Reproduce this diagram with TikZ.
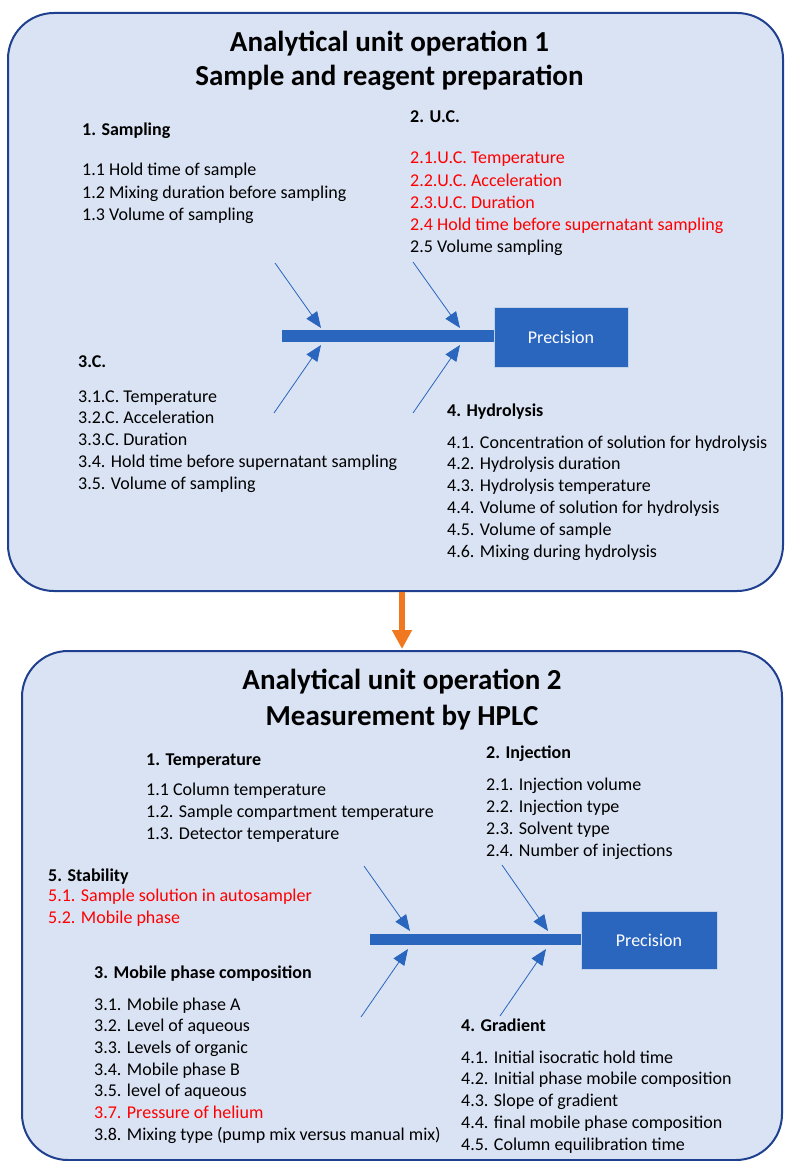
\documentclass[tikz,border=0pt]{standalone}
\usepackage{fontspec}
\setmainfont{Carlito}
\usetikzlibrary{arrows.meta}
\definecolor{panelfill}{HTML}{DAE3F3}
\definecolor{paneldraw}{HTML}{1F3F8F}
\definecolor{fishblue}{HTML}{2A65BE}
\definecolor{flowor}{HTML}{F07820}
\definecolor{redtxt}{HTML}{FF0000}
\newcommand{\bone}[2]{\draw[bone] (#1)--(#2);}
\newcommand{\rd}[1]{\textcolor{redtxt}{#1}}
\tikzset{
  panel/.style={draw=paneldraw,line width=2pt,fill=panelfill,rounded corners=46pt,
    inner sep=0pt},
  ttl/.style={font=\fontsize{29}{34}\selectfont\bfseries,anchor=base},
  head/.style={font=\fontsize{18}{22}\selectfont\bfseries,anchor=base west,inner sep=0pt},
  item/.style={font=\fontsize{18}{22}\selectfont,anchor=base west,inner sep=0pt},
  bone/.style={draw=fishblue,line width=.8pt,-{Triangle[length=16pt,width=13pt]}},
  spine/.style={fill=fishblue},
  effect/.style={fill=fishblue,draw=white!70!fishblue,line width=.6pt,
    text=white,font=\fontsize{18}{22}\selectfont,inner sep=0pt},
  flow/.style={draw=flowor,line width=6pt,-{Triangle[length=19pt,width=19pt]},
    shorten >=1pt}
}
\begin{document}
\begin{tikzpicture}[x=1pt,y=-1pt]
  \useasboundingbox (0,0) rectangle (784,1161);

  % the two unit operations
  \node[panel,minimum width=775pt,minimum height=578pt] (op1) at (395.5,302) {};
  \node[panel,minimum width=760pt,minimum height=509pt] (op2) at (402,905.5) {};
  \draw[flow] (op1.south -| op2.north) -- (op2.north);

  % ---- operation 1 ----
  \node[ttl] (t1a) at (389.5,52) {Analytical unit operation 1};
  \node[ttl] (t1b) at (389.5,86) {Sample and reagent preparation};

  \fill[spine] (282,330) rectangle (495,342);
  \node[effect,minimum width=134pt,minimum height=60pt] (eff1) at (561,337) {Precision};

  \coordinate (a1) at (275,263);  \coordinate (b1) at (321,328);
  \coordinate (a2) at (413,262);  \coordinate (b2) at (460,328);
  \coordinate (a3) at (274,413);  \coordinate (b3) at (321,345);
  \coordinate (a4) at (413,413);  \coordinate (b4) at (460,345);
  \foreach \i in {1,...,4}{\bone{a\i}{b\i}}

  \node[head] (h11) at (82,136) {1. Sampling};
  \foreach \txt [count=\k] in {1.1 Hold time of sample,
      1.2 Mixing duration before sampling,1.3 Volume of sampling}
    \node[item] (i11\k) at (82,176+22*\k-22) {\txt};

  \node[head] (h12) at (410,123) {2. U.C.};
  \foreach \txt [count=\k] in {\rd{2.1.U.C. Temperature},\rd{2.2.U.C. Acceleration},
      \rd{2.3.U.C. Duration},\rd{2.4 Hold time before supernatant sampling},
      2.5 Volume sampling}
    \node[item] (i12\k) at (410,164+22*\k-22) {\txt};

  \node[head] (h13) at (78,367) {3.C.};
  \foreach \txt [count=\k] in {3.1.C. Temperature,3.2.C. Acceleration,
      3.3.C. Duration,3.4. Hold time before supernatant sampling,
      3.5. Volume of sampling}
    \node[item] (i13\k) at (78,402+21.75*\k-21.75) {\txt};

  \node[head] (h14) at (447,416) {4. Hydrolysis};
  \foreach \txt [count=\k] in {4.1. Concentration of solution for hydrolysis,
      4.2. Hydrolysis duration,4.3. Hydrolysis temperature,
      4.4. Volume of solution for hydrolysis,4.5. Volume of sample,
      4.6. Mixing during hydrolysis}
    \node[item] (i14\k) at (447,448+21.8*\k-21.8) {\txt};

  % ---- operation 2 ----
  \node[ttl] (t2a) at (402,689) {Analytical unit operation 2};
  \node[ttl] (t2b) at (402,725) {Measurement by HPLC};

  \fill[spine] (370,934) rectangle (582,945);
  \node[effect,minimum width=136pt,minimum height=58pt] (eff2) at (649,940) {Precision};

  \coordinate (c1) at (364,866);  \coordinate (d1) at (410,931);
  \coordinate (c2) at (502,865);  \coordinate (d2) at (548,931);
  \coordinate (c3) at (361,1017); \coordinate (d3) at (408,949);
  \coordinate (c4) at (500,1016); \coordinate (d4) at (546,949);
  \foreach \i in {1,...,4}{\bone{c\i}{d\i}}

  \node[head] (h21) at (146,765) {1. Temperature};
  \foreach \txt [count=\k] in {1.1 Column temperature,
      1.2. Sample compartment temperature,1.3. Detector temperature}
    \node[item] (i21\k) at (146,795+22*\k-22) {\txt};

  \node[head] (h22) at (486,758) {2. Injection};
  \foreach \txt [count=\k] in {2.1. Injection volume,2.2. Injection type,
      2.3. Solvent type,2.4. Number of injections}
    \node[item] (i22\k) at (486,790+22*\k-22) {\txt};

  \node[head] (h25) at (48,881) {5. Stability};
  \foreach \txt [count=\k] in {\rd{5.1. Sample solution in autosampler},
      \rd{5.2. Mobile phase}}
    \node[item] (i25\k) at (48,901+22*\k-22) {\txt};

  \node[head] (h23) at (94,978) {3. Mobile phase composition};
  \foreach \txt [count=\k] in {3.1. Mobile phase A,3.2. Level of aqueous,
      3.3. Levels of organic,3.4. Mobile phase B,3.5. level of aqueous,
      \rd{3.7. Pressure of helium},3.8. Mixing type (pump mix versus manual mix)}
    \node[item] (i23\k) at (94,1010+21.67*\k-21.67) {\txt};

  \node[head] (h24) at (461,1031) {4. Gradient};
  \foreach \txt [count=\k] in {4.1. Initial isocratic hold time,
      4.2. Initial phase mobile composition,4.3. Slope of gradient,
      4.4. final mobile phase composition,4.5. Column equilibration time}
    \node[item] (i24\k) at (461,1063+21.75*\k-21.75) {\txt};
\end{tikzpicture}
\end{document}
